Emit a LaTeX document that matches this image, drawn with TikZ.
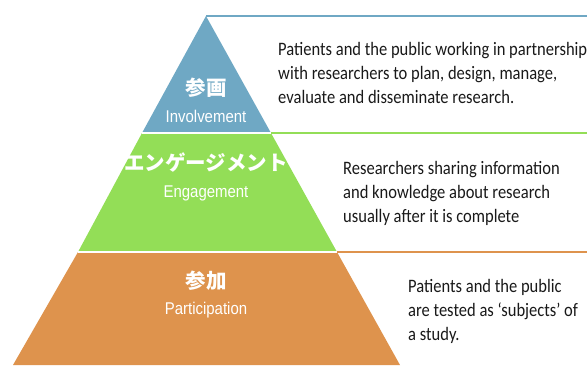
\documentclass[tikz,border=0pt]{standalone}
\usepackage{fontspec}
\setmainfont[FakeStretch=0.87]{Carlito}
\newfontfamily\cjkfont{Noto Sans CJK JP}
\newfontfamily\tierfont[FakeStretch=0.88]{Liberation Sans}

\definecolor{invblue}{RGB}{111,168,196}
\definecolor{enggreen}{RGB}{147,222,87}
\definecolor{partorange}{RGB}{222,147,77}
\definecolor{notegray}{RGB}{25,25,25}

\begin{document}
\begin{tikzpicture}[x=1pt,y=-1pt,
  gap/.style={draw=white,line width=1.3pt},
  rule/.style={line width=2pt},
  jp/.style={text=white,inner sep=0pt,font=\cjkfont\bfseries\fontsize{20.5}{24}\selectfont},
  en/.style={text=white,inner sep=0pt,font=\tierfont\fontsize{17}{20}\selectfont},
  note/.style={anchor=north west,align=left,inner sep=0pt,text=notegray,
    font=\fontsize{19}{24}\selectfont}]
\useasboundingbox (0,0) rectangle (587,365);

% corners of the three tiers
\coordinate (apex) at (206,16);
\coordinate (t1l) at (142,133); \coordinate (t1r) at (271,133);
\coordinate (t2l) at (78,252);  \coordinate (t2r) at (337,252);
\coordinate (t3l) at (13,365);  \coordinate (t3r) at (400,365);
% free ends of the rules
\coordinate (r0) at (587,16);
\coordinate (r1) at (587,133);
\coordinate (r2) at (587,252);

\fill[invblue] (apex) -- (t1r) -- (t1l) -- cycle;
\fill[enggreen] (t1l) -- (t1r) -- (t2r) -- (t2l) -- cycle;
\fill[partorange] (t2l) -- (t2r) -- (t3r) -- (t3l) -- cycle;
\draw[gap] (t1l) -- (t1r);
\draw[gap] (t2l) -- (t2r);

\draw[rule,invblue] (apex) -- (r0);
\draw[rule,enggreen] (t1r) -- (r1);
\draw[rule,partorange] (t2r) -- (r2);

% tier labels
\node[jp] (invjp) at (206,88) {参画};
\node[en] (inven) at (206,116) {Involvement};
\node[jp] (engjp) at (206,163) {エンゲージメント};
\node[en] (engen) at (206,193) {Engagement};
\node[jp] (partjp) at (206,281) {参加};
\node[en] (parten) at (206,310) {Participation};

% descriptions
\node[note] (invnote) at (278,42) {Patients and the public working in partnership\\
  with researchers to plan, design, manage,\\
  evaluate and disseminate research.};
\node[note] (engnote) at (343,161) {Researchers sharing information\\
  and knowledge about research\\
  usually after it is complete};
\node[note] (partnote) at (408,279) {Patients and the public\\
  are tested as `subjects' of\\
  a study.};
\end{tikzpicture}
\end{document}
